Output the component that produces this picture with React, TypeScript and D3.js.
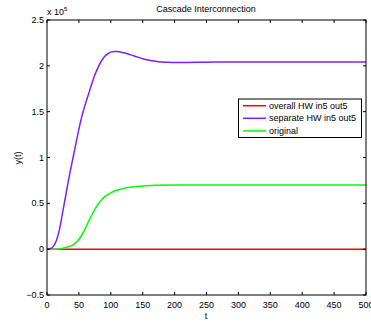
import React from "react";
import * as d3 from "d3";

const tPurple = [0, 5, 10, 15, 20, 25, 30, 35, 40, 45, 50, 55, 60, 65, 70, 75, 80, 85, 90, 95, 100, 105, 110, 120, 130, 140, 150, 160, 170, 180, 190, 200, 220, 250, 300, 400, 500];
const vPurple = [0, 0.005, 0.03, 0.1, 0.23, 0.42, 0.61, 0.8, 0.97, 1.14, 1.31, 1.46, 1.58, 1.69, 1.8, 1.9, 1.98, 2.05, 2.1, 2.13, 2.15, 2.157, 2.156, 2.142, 2.122, 2.1, 2.078, 2.062, 2.05, 2.042, 2.038, 2.036, 2.037, 2.04, 2.042, 2.042, 2.042];
const tGreen = [0, 10, 20, 25, 30, 35, 40, 45, 50, 55, 60, 65, 70, 75, 80, 85, 90, 95, 100, 110, 120, 130, 140, 150, 175, 200, 300, 500];
const vGreen = [0, 0, 0.003, 0.01, 0.02, 0.03, 0.045, 0.07, 0.105, 0.16, 0.225, 0.3, 0.37, 0.435, 0.49, 0.535, 0.57, 0.595, 0.615, 0.645, 0.663, 0.675, 0.684, 0.69, 0.697, 0.7, 0.7, 0.7];
const tRed = [0, 100, 200, 300, 400, 500];
const vRed = [0, 0, 0, 0, 0, 0];

const xTicks = [0, 50, 100, 150, 200, 250, 300, 350, 400, 450, 500];
const yTicks = [-0.5, 0, 0.5, 1, 1.5, 2, 2.5];
const legendLabels = ["overall HW in5 out5", "separate HW in5 out5", "original"];
const colors = ["#ff0000", "#7f1fff", "#00ff00"];

export default function App() {
  const W = 371, H = 324;
  const L = 47, R = 366, T = 20, B = 295;
  const x = d3.scaleLinear().domain([0, 500]).range([L, R]);
  const y = d3.scaleLinear().domain([-0.5, 2.5]).range([B, T]);
  const lineFn = d3.line<[number, number]>().x(d => x(d[0])).y(d => y(d[1])).curve(d3.curveMonotoneX);
  const path = (ts: number[], vs: number[]) => lineFn(ts.map((t, i) => [t, vs[i]]) as [number, number][]) || "";
  const font = "'Liberation Sans', Arial, sans-serif";
  const fmtY = (v: number) => (v < 0 ? "\u2212" + Math.abs(v) : String(v));
  const tl = 3;
  const lgX = 238.5, lgY = 99, lgW = 123, lgH = 38.5;
  return (
    <svg width={W} height={H} style={{ position: "absolute", left: 0, top: 0, background: "#fff" }} fontFamily={font}>
      <rect x={0} y={0} width={W} height={H} fill="#fff" />
      <defs>
        <clipPath id="plot">
          <rect x={L} y={T} width={R - L} height={B - T} />
        </clipPath>
      </defs>
      <g clipPath="url(#plot)" fill="none" strokeWidth={1.5}>
        <path d={path(tRed, vRed)} stroke={colors[0]} />
        <path d={path(tGreen, vGreen)} stroke={colors[2]} />
        <path d={path(tPurple, vPurple)} stroke={colors[1]} />
      </g>
      <rect x={L} y={T} width={R - L} height={B - T} fill="none" stroke="#000" strokeWidth={1} />
      {xTicks.map(t => (
        <g key={"x" + t}>
          <line x1={x(t)} x2={x(t)} y1={B} y2={B - tl} stroke="#000" />
          <line x1={x(t)} x2={x(t)} y1={T} y2={T + tl} stroke="#000" />
          <text x={x(t)} y={308} fontSize={9} textAnchor="middle" fill="#000">{t}</text>
        </g>
      ))}
      {yTicks.map(v => (
        <g key={"y" + v}>
          <line x1={L} x2={L + tl} y1={y(v)} y2={y(v)} stroke="#000" />
          <line x1={R} x2={R - tl} y1={y(v)} y2={y(v)} stroke="#000" />
          <text x={44} y={y(v) + 3} fontSize={9} textAnchor="end" fill="#000">{fmtY(v)}</text>
        </g>
      ))}
      <text x={47} y={15} fontSize={9} fill="#000">x 10<tspan fontSize={6} dy={-4}>5</tspan></text>
      <text x={206} y={12} fontSize={9} textAnchor="middle" fill="#000">Cascade Interconnection</text>
      <text x={206} y={319} fontSize={9} textAnchor="middle" fill="#000">t</text>
      <text transform={`translate(21,158) rotate(-90)`} fontSize={9} textAnchor="middle" fill="#000">y(t)</text>
      <rect x={lgX} y={lgY} width={lgW} height={lgH} fill="#fff" stroke="#000" strokeWidth={1} />
      {legendLabels.map((lab, i) => (
        <g key={lab}>
          <line x1={243} x2={266} y1={105.7 + i * 12.6} y2={105.7 + i * 12.6} stroke={colors[i]} strokeWidth={1.5} />
          <text x={269} y={105.7 + i * 12.6 + 3} fontSize={9} fill="#000">{lab}</text>
        </g>
      ))}
    </svg>
  );
}
